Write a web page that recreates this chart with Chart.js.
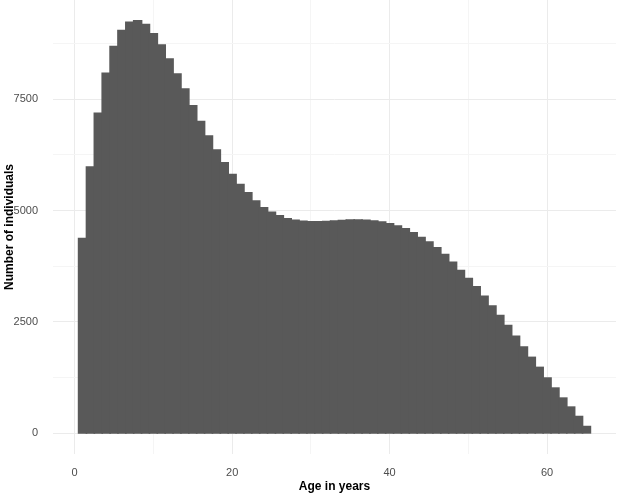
<!DOCTYPE html>
<html>
<head>
<meta charset="utf-8">
<script src="https://cdn.jsdelivr.net/npm/chart.js@4/dist/chart.umd.min.js"></script>
<style>
html,body{margin:0;padding:0;background:#fff;}
#wrap{width:617px;height:494px;position:relative;}
</style>
</head>
<body>
<div id="wrap"><canvas id="c"></canvas></div>
<script>
const ages = [1,2,3,4,5,6,7,8,9,10,11,12,13,14,15,16,17,18,19,20,
  21,22,23,24,25,26,27,28,29,30,31,32,33,34,35,36,37,38,39,40,
  41,42,43,44,45,46,47,48,49,50,51,52,53,54,55,56,57,58,59,60,
  61,62,63,64,65];
const counts = [4370,5975,7185,8080,8680,9040,9225,9260,9175,8970,
  8715,8400,8065,7725,7350,7000,6675,6360,6075,5810,
  5585,5400,5215,5065,4960,4885,4815,4780,4760,4750,
  4750,4755,4765,4775,4785,4790,4780,4765,4740,4703,
  4651,4591,4501,4396,4291,4164,4014,3841,3654,3474,
  3287,3077,2860,2642,2417,2177,1938,1705,1480,1241,
  1016,791,589,378,153];
const xTickLabels = [0,20,40,60];
const xMinorGrid = [10,30,50];
const yTickLabels = [0,2500,5000,7500];
const yMinorGrid = [1250,3750,6250,8750];
const xTitle = "Age in years";
const yTitle = "Number of individuals";

const points = ages.map((a,i)=>({x:a, y:counts[i]}));
const majorCol = '#ebebeb', minorCol = '#f5f5f5';
const tickFont = {family:'"Liberation Sans", Arial, sans-serif', size:11};
const titleFont = {family:'"Liberation Sans", Arial, sans-serif', size:12, weight:'bold'};
const gridCol = list => c => (c && c.tick && list.includes(c.tick.value)) ? majorCol : minorCol;
const setTicks = (major, minor) => s => {
  s.ticks = major.concat(minor).sort((a,b)=>a-b).map(v=>({value:v}));
};

new Chart(document.getElementById('c'), {
  type:'bar',
  data:{datasets:[{data:points, backgroundColor:'#595959', borderWidth:0,
    barPercentage:1, categoryPercentage:1, inflateAmount:0.8}]},
  options:{
    responsive:true, maintainAspectRatio:false, animation:false,
    layout:{padding:{top:0,right:1,left:0,bottom:0}},
    plugins:{legend:{display:false}, tooltip:{enabled:false}},
    scales:{
      x:{type:'linear', min:-2.75, max:68.75, offset:false,
        grid:{offset:false, drawTicks:false, lineWidth:1, color:gridCol(xTickLabels)},
        border:{display:false},
        afterBuildTicks:setTicks(xTickLabels, xMinorGrid),
        ticks:{autoSkip:false, maxRotation:0, padding:12,
          color:'#4d4d4d', font:tickFont,
          callback:v=>xTickLabels.includes(v)?String(v):''},
        title:{display:true, text:xTitle, color:'#000', font:titleFont, padding:{top:0,bottom:0}},
        afterFit:s=>{s.height=40; s.paddingLeft=0; s.paddingRight=0;}
      },
      y:{type:'linear', min:-463, max:9726,
        grid:{offset:false, drawTicks:false, lineWidth:1, color:gridCol(yTickLabels)},
        border:{display:false},
        afterBuildTicks:setTicks(yTickLabels, yMinorGrid),
        ticks:{autoSkip:false, padding:15,
          color:'#4d4d4d', font:tickFont,
          callback:v=>yTickLabels.includes(v)?String(v):''},
        title:{display:true, text:yTitle, color:'#000', font:titleFont, padding:{top:2,bottom:0}},
        afterFit:s=>{s.width=53; s.paddingTop=0; s.paddingBottom=0;}
      }
    }
  }
});
</script>
</body>
</html>
